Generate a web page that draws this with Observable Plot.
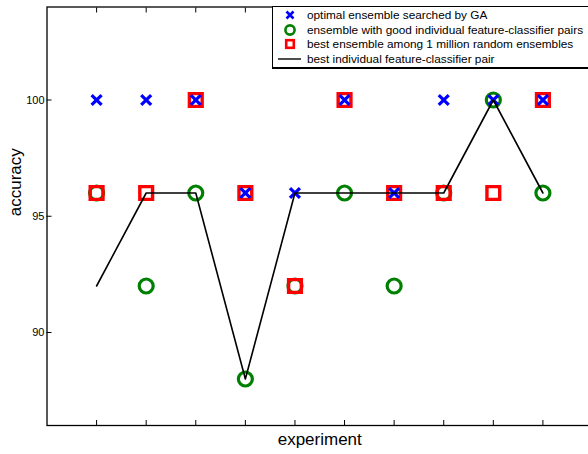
<!DOCTYPE html>
<html><head><meta charset="utf-8">
<script src="https://cdn.jsdelivr.net/npm/d3@7"></script>
<script src="https://cdn.jsdelivr.net/npm/@observablehq/plot@0.6"></script>
<style>
html,body{margin:0;padding:0;overflow:hidden;background:#fff;width:588px;height:454px}
#wrap{position:relative;width:588px;height:454px;overflow:hidden}
#chart svg{max-width:none !important;display:block}
#legend{position:absolute;left:272px;top:6px;width:330px;height:60px;border:1.3px solid #000;border-bottom-width:2.5px;background:#fff;font-family:"Liberation Sans",Arial,sans-serif;font-size:11.8px;color:#000}
.row{position:absolute;left:0;height:14px;display:flex;align-items:center;white-space:nowrap}
.row svg{width:34px;height:14px;flex:none}
</style>
</head><body>
<div id="wrap"><div id="chart"></div>
<div id="legend"></div></div>
<script>
const experiments = [1, 2, 3, 4, 5, 6, 7, 8, 9, 10];
const gaAcc = [100, 100, 100, 96, 96, 100, 96, 100, 100, 100];
const goodPairsAcc = [96, 92, 96, 88, 92, 96, 92, 96, 100, 96];
const randomAcc = [96, 96, 100, 96, 92, 100, 96, 96, 96, 100];
const bestPairAcc = [92, 96, 96, 88, 96, 96, 96, 96, 100, 96];
const yTicks = [90, 95, 100];
const xTicks = experiments;
const seriesNames = [
  "optimal ensemble searched by GA",
  "ensemble with good individual feature-classifier pairs",
  "best ensemble among 1 million random ensembles",
  "best individual feature-classifier pair"
];
const colors = {ga: "#0000ff", good: "#008000", rnd: "#ff0000", line: "#000000"};

const rows = (vals) => experiments.map((e, i) => ({x: e, y: vals[i]}));
const font = "Liberation Sans, Arial, sans-serif";

const chart = Plot.plot({
  width: 593, height: 454,
  marginLeft: 46.5, marginRight: 1, marginTop: 6.5, marginBottom: 29,
  style: {fontFamily: font, background: "#fff", color: "#000"},
  x: {domain: [0, 11], axis: null},
  y: {domain: [86, 104], axis: null},
  marks: [
    Plot.frame({stroke: "#000", strokeWidth: 1.3}),
    Plot.axisY(yTicks, {anchor: "left", tickSize: -5, tickPadding: 7.5, fontSize: 11, label: null, stroke: "#000"}),
    Plot.axisY(yTicks, {anchor: "right", tickSize: -5, tickFormat: () => "", label: null}),
    Plot.axisX(xTicks, {anchor: "bottom", tickSize: -5, tickFormat: () => "", label: null}),
    Plot.axisX(xTicks, {anchor: "top", tickSize: -5, tickFormat: () => "", label: null}),
    Plot.dot(rows(goodPairsAcc), {x: "x", y: "y", symbol: "circle", r: 7, stroke: colors.good, strokeWidth: 3.2}),
    Plot.dot(rows(randomAcc), {x: "x", y: "y", symbol: "square", r: 7.2, stroke: colors.rnd, strokeWidth: 3.4}),
    Plot.dot(rows(gaAcc), {x: "x", y: "y", symbol: "times", r: 4.6, stroke: colors.ga, strokeWidth: 3.2}),
    Plot.line(rows(bestPairAcc), {x: "x", y: "y", stroke: colors.line, strokeWidth: 1.6}),
    Plot.text(["accuracy"], {frameAnchor: "left", rotate: -90, dx: -31, fontSize: 17, fill: "#000"}),
    Plot.text(["experiment"], {frameAnchor: "bottom", dy: 19, fontSize: 17, fill: "#000"})
  ]
});
chart.style.maxWidth = "none";
document.getElementById("chart").appendChild(chart);

// legend
const legend = document.getElementById("legend");
const icons = [
  `<svg viewBox="-17 -7 34 14"><path d="M-3.5,-3.5L3.5,3.5M-3.5,3.5L3.5,-3.5" stroke="${colors.ga}" stroke-width="2.6" fill="none"/></svg>`,
  `<svg viewBox="-17 -7 34 14"><circle r="4.6" stroke="${colors.good}" stroke-width="2.6" fill="none"/></svg>`,
  `<svg viewBox="-17 -7 34 14"><rect x="-3.8" y="-3.8" width="7.6" height="7.6" stroke="${colors.rnd}" stroke-width="2.6" fill="none"/></svg>`,
  `<svg viewBox="-17 -7 34 14"><path d="M-12,0H11" stroke="${colors.line}" stroke-width="1.4"/></svg>`
];
const rowTops = [1, 15.5, 29.5, 45];
seriesNames.forEach((name, i) => {
  const r = document.createElement("div");
  r.className = "row";
  r.style.top = rowTops[i] + "px";
  r.innerHTML = icons[i] + `<span>${name}</span>`;
  legend.appendChild(r);
});
</script>
</body></html>
